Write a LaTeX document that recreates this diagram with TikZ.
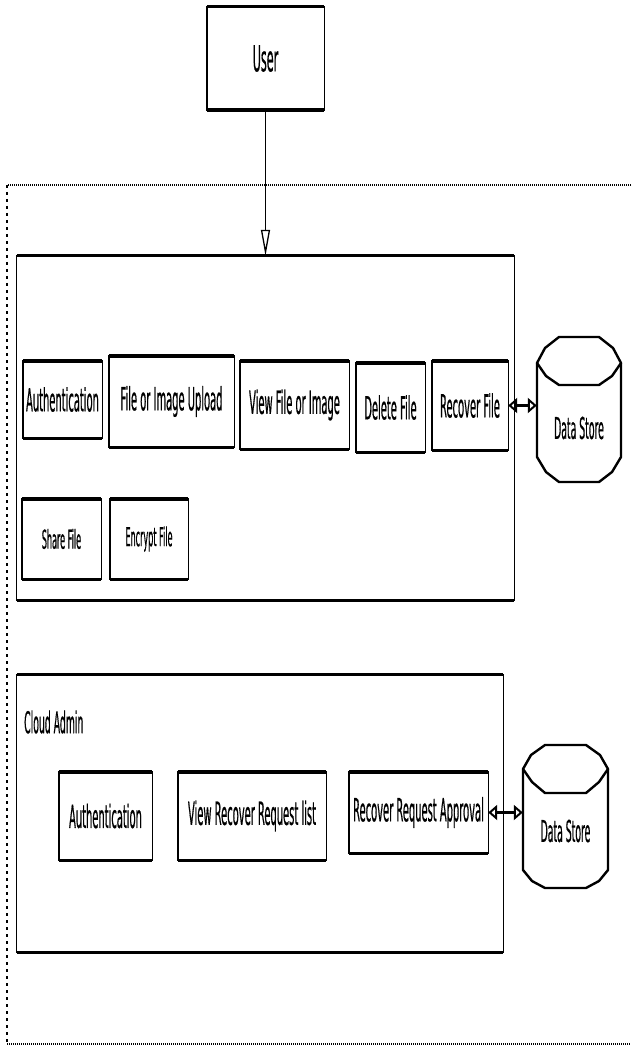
\documentclass[tikz,border=0pt]{standalone}
\usepackage{fontspec}
\setmainfont{DejaVu Sans}[FakeStretch=0.31,FakeBold=0.4]
\usetikzlibrary{arrows.meta}
\begin{document}
\begin{tikzpicture}[x=1pt,y=-1pt,
  bx/.style={draw=none, inner sep=0pt, font=\fontsize{32}{36}\selectfont, align=center},
  smallbx/.style={bx, font=\fontsize{26}{30}\selectfont},
  sideln/.style={line width=1.4pt},
  capln/.style={line width=3.4pt},
  bigside/.style={line width=1.2pt},
  bigcap/.style={line width=3pt},
  dsline/.style={line width=2.4pt, line join=round},
  dotln/.style={line width=1.4pt, dash pattern=on 1pt off 1pt},
  dashln/.style={line width=1.4pt, dash pattern=on 3pt off 4pt},
  flow/.style={line width=1.3pt, -{Triangle[open,length=26pt,width=9pt,line width=1.3pt]}},
  dbl/.style={line width=2.6pt, {Triangle[open,length=9pt,width=15pt,line width=2pt]}-{Triangle[open,length=9pt,width=15pt,line width=2pt]}}
]
\useasboundingbox (0,0) rectangle (631,1048);
\fill[white] (0,0) rectangle (631,1048);

% dotted system boundary
\draw[dotln] (631,185) -- (7,185);
\draw[dashln] (7,185) -- (7,1044);
\draw[dotln] (7,1044) -- (631,1044);

% User
\node[bx, minimum width=117pt, minimum height=103pt, font=\fontsize{36}{40}\selectfont] (user) at (265.5,58.5) {User};

% big boxes
\node[bx, minimum width=497pt, minimum height=344pt] (b1) at (265.5,428) {};
\node[bx, minimum width=486pt, minimum height=277pt] (b2) at (260,813.5) {};

% row 1
\node[bx, minimum width=79pt, minimum height=77pt] (auth) at (62.5,399.5) {Authentication};
\node[bx, minimum width=125pt, minimum height=91pt] (upl) at (171.5,401.5) {File or Image Upload};
\node[bx, minimum width=109pt, minimum height=88pt] (view) at (294.5,405) {View File or Image};
\node[bx, minimum width=69pt, minimum height=89pt] (del) at (390.5,407.5) {Delete File};
\node[bx, minimum width=76pt, minimum height=89pt] (rec) at (470,405.5) {Recover File};
% row 2
\node[smallbx, minimum width=79pt, minimum height=80pt] (share) at (61.5,539) {Share File};
\node[smallbx, minimum width=78pt, minimum height=80pt] (enc) at (149,539) {Encrypt File};

% cloud admin
\node[bx, anchor=west, font=\fontsize{30}{34}\selectfont] (ca) at (24,722) {Cloud Admin};
\node[bx, minimum width=93pt, minimum height=88pt] (auth2) at (105.5,816) {Authentication};
\node[bx, minimum width=148pt, minimum height=88pt] (vrr) at (252,816) {View Recover Request list};
\node[bx, minimum width=139pt, minimum height=81pt] (rra) at (418.5,812.5) {Recover Request Approval};

% borders of boxes
\foreach \n in {user,auth,upl,view,del,rec,share,enc,auth2,vrr,rra}{
  \draw[sideln] (\n.north west) rectangle (\n.south east);
  \draw[capln] (\n.north west) -- (\n.north east) (\n.south west) -- (\n.south east);
}
\foreach \n in {b1,b2}{
  \draw[bigside] (\n.north west) rectangle (\n.south east);
  \draw[bigcap] (\n.north west) -- (\n.north east) (\n.south west) -- (\n.south east);
}

% data stores
\node[bx, minimum width=84pt, font=\fontsize{30}{34}\selectfont] (ds1) at (579,428) {Data Store};
\draw[dsline] (537,363) -- (545,348) -- (559,337) -- (599,337) -- (613,348) -- (621,363) -- (612,376) -- (599,385) -- (559,385) -- (546,376) -- cycle;
\draw[dsline] (537,363) -- (537,457) -- (546,472) -- (559,482) -- (599,482) -- (612,472) -- (621,457) -- (621,363);

\node[bx, minimum width=85pt, font=\fontsize{30}{34}\selectfont] (ds2) at (565.5,831) {Data Store};
\draw[dsline] (523,769) -- (531,755) -- (545,745) -- (586,745) -- (600,755) -- (608,769) -- (599,782) -- (586,793) -- (545,793) -- (532,782) -- cycle;
\draw[dsline] (523,769) -- (523,870) -- (532,881) -- (545,888) -- (586,888) -- (599,881) -- (608,870) -- (608,769);

% connectors
\draw[flow] (user.south) -- (user.south |- b1.north);
\draw[dbl] (rec.east) -- (rec.east -| ds1.west);
\draw[dbl] (rra.east) -- (rra.east -| ds2.west);
\end{tikzpicture}
\end{document}
